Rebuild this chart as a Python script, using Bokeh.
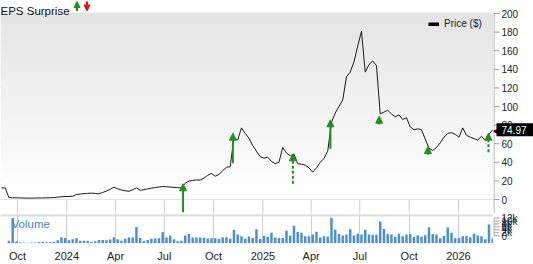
import numpy as np
import pandas as pd
from bokeh.plotting import figure
from bokeh.layouts import column, row
from bokeh.models import (Range1d, FixedTicker, Label, Legend, LegendItem,
                          ColumnDataSource, Arrow, NormalHead, Span, Grid)
from bokeh.core.properties import value
from bokeh.embed import file_html
from bokeh.resources import INLINE

# ---------------- data ----------------
week_start = "2023-09-01"

price = [12.6, 12.4, 2.0, 1.9, 1.8, 1.7, 1.6, 1.5, 1.5, 1.6,
         1.7, 1.7, 1.8, 1.9, 2.1, 2.5, 3.0, 3.2, 3.3, 3.5,
         5.4, 5.8, 6.3, 6.6, 6.9, 6.5, 6.1, 7.6, 9.0, 11.0,
         13.2, 11.5, 10.3, 9.4, 8.8, 10.5, 12.6, 9.8, 10.6, 11.4,
         12.2, 12.8, 13.4, 14.0, 13.7, 13.4, 13.0, 12.8, 12.4, 17.5,
         19.7, 20.5, 21.0, 21.0, 23.0, 26.0, 28.0, 25.0, 27.0, 31.0,
         34.7, 35.3, 66.0, 64.0, 77.0, 71.0, 66.0, 58.0, 52.0, 46.0,
         44.5, 45.5, 41.0, 38.5, 40.0, 56.0, 50.0, 47.0, 49.0, 38.5,
         38.0, 37.0, 34.0, 29.4, 34.0, 40.0, 44.0, 52.0, 83.0, 93.0,
         100.0, 107.0, 132.0, 137.0, 148.0, 165.0, 181.0, 137.0, 145.0, 149.0,
         144.0, 92.0, 94.0, 96.0, 92.0, 89.0, 91.0, 86.0, 88.0, 78.0,
         75.0, 76.0, 75.0, 65.0, 55.0, 52.7, 56.0, 61.0, 67.0, 71.0,
         72.0, 70.0, 67.0, 77.0, 69.0, 67.0, 65.6, 64.0, 68.0, 63.4,
         70.0, 74.97]

volume_k = [0.0, 0.0, 1.3, 12.8, 0.9, 0.4, 0.3, 0.3, 0.4, 0.4,
            0.5, 0.6, 0.5, 0.7, 0.8, 1.6, 3.1, 2.7, 1.6, 2.0,
            2.5, 1.3, 1.3, 1.3, 0.8, 1.1, 1.7, 1.7, 1.6, 1.9,
            3.1, 2.0, 1.3, 2.3, 2.9, 2.9, 8.3, 2.7, 1.2, 1.7,
            2.3, 2.4, 2.5, 5.6, 2.9, 3.9, 2.0, 1.1, 1.3, 4.0,
            4.7, 2.9, 2.9, 2.9, 2.8, 2.4, 2.5, 2.5, 2.3, 3.1,
            3.1, 2.3, 6.7, 4.4, 3.6, 2.3, 3.5, 2.7, 7.1, 2.3,
            3.7, 3.3, 5.3, 2.9, 2.7, 2.7, 6.3, 4.0, 8.9, 5.7,
            5.3, 3.6, 3.6, 4.4, 5.9, 2.9, 3.6, 3.5, 13.0, 6.9,
            4.7, 3.9, 4.4, 7.1, 3.9, 4.9, 4.4, 6.9, 4.4, 4.3,
            4.3, 11.1, 7.3, 4.7, 4.4, 3.3, 4.9, 3.6, 4.5, 4.7,
            3.3, 4.1, 3.3, 4.1, 8.1, 4.7, 4.5, 2.5, 3.7, 8.0,
            5.3, 2.5, 2.7, 3.6, 3.7, 3.1, 4.8, 4.0, 3.6, 2.0,
            9.5, 2.6]

eps_dates = ["2024-08-05", "2024-11-06", "2025-02-26", "2025-05-07",
             "2025-08-06", "2025-11-05", "2026-02-26"]
eps_head = [16.9, 71.3, 49.1, 85.7, 89.6, 57.0, 71.3]
eps_tail = [-13.7, 39.0, 16.9, 54.5, 80.6, 48.0, 50.9]
eps_dashed = [False, False, True, False, False, False, True]

tick_dates = ["2023-10-01", "2024-01-01", "2024-04-01", "2024-07-01", "2024-10-01",
              "2025-01-01", "2025-04-01", "2025-07-01", "2025-10-01", "2026-01-01"]
tick_labels = ["Oct", "2024", "Apr", "Jul", "Oct", "2025", "Apr", "Jul", "Oct", "2026"]
price_ticks = [0, 20, 40, 60, 80, 100, 120, 140, 160, 180, 200]
vol_ticks = [0, 2, 4, 6, 8, 10, 12]
vol_tick_labels = ["0", "2k", "4k", "6k", "8k", "10k", "12k"]
last_price_text = "74.97"

# ---------------- styling ----------------
FONT = "Liberation Sans"
GRID = "#cccccc"
AXIS = "#a0a0a0"
GREEN = "#1f8f1f"
RED = "#e3121b"
BLUE = "#4a8fd2"
TXT = "#222222"

dates = pd.date_range(week_start, periods=len(price), freq="7D")
x_start = pd.Timestamp("2023-08-30 06:00")
x_end = pd.Timestamp("2026-03-07 10:00")
x_range = Range1d(start=x_start.to_pydatetime(), end=x_end.to_pydatetime())

tick_dt = pd.to_datetime(tick_dates)
tick_ms = [int(t.value // 10**6) for t in tick_dt]
xticker = FixedTicker(ticks=tick_ms)

MAIN_W, SIDE_W = 493, 40
HEAD_H, PRICE_H, VOL_H, XAX_H = 12, 201, 51, 13
TOP_H = HEAD_H + PRICE_H
price_lo, price_hi = -15.05, 201.1
price_top = price_lo + (price_hi - price_lo) * TOP_H / PRICE_H
vol_lo, vol_hi = -0.1, 15.1


def bare(fig):
    fig.outline_line_color = None
    fig.grid.visible = False
    fig.background_fill_color = "white"
    fig.border_fill_color = "white"
    return fig


# ---------------- price panel (with the header strip above it) ----------------
p = bare(figure(width=MAIN_W, height=TOP_H, x_range=x_range, y_range=Range1d(price_lo, price_top),
                x_axis_type="datetime", x_axis_location=None, y_axis_location=None,
                output_backend="svg", toolbar_location=None, min_border=0))

# background gradient (grey at top fading to white at 0)
n = 80
frac = np.linspace(0.0, 1.0, n)
g = np.round(255 - frac * 27).astype(np.uint32)
rgba = (np.uint32(255) << 24) | (g << 16) | (g << 8) | g
img = rgba.reshape(n, 1).astype(np.uint32)
x0_ms = x_start.value / 1e6
x1_ms = x_end.value / 1e6
p.image_rgba(image=[img], x=x0_ms, y=0, dw=x1_ms - x0_ms, dh=price_hi)

# vertical grid lines only inside the price area, horizontal grid at price ticks
p.segment(x0=tick_dt, x1=tick_dt, y0=price_lo, y1=price_hi, line_color=GRID, line_width=1,
          level="underlay")
p.add_layout(Grid(dimension=1, ticker=FixedTicker(ticks=price_ticks), grid_line_color=GRID))

src = ColumnDataSource(dict(date=dates, price=price))
p.line("date", "price", source=src, line_color="#1a1a1a", line_width=1)
# thick, hidden copy of the line: only used as the legend swatch
swatch = p.line("date", "price", source=src, line_color="black", line_width=4,
                line_cap="butt", visible=False)

ed = pd.to_datetime(eps_dates)
for dashed in (False, True):
    idx = [i for i, d in enumerate(eps_dashed) if d == dashed]
    s = ColumnDataSource(dict(x=[ed[i] for i in idx], y0=[eps_tail[i] for i in idx],
                              y1=[eps_head[i] for i in idx]))
    p.add_layout(Arrow(end=NormalHead(size=7, fill_color=GREEN, line_color=GREEN, line_width=1),
                       x_start="x", y_start="y0", x_end="x", y_end="y1", source=s,
                       line_color=GREEN, line_width=2,
                       line_dash="3 2" if dashed else "solid"))

legend = Legend(items=[LegendItem(label="Price ($)", renderers=[swatch])],
                location=(428, 183.5), orientation="vertical", click_policy="none",
                glyph_width=11, glyph_height=4, label_height=12,
                label_standoff=5, padding=4, spacing=0, margin=0,
                background_fill_alpha=0, border_line_color=None,
                label_text_font=FONT, label_text_font_size="10px", label_text_color=TXT)
p.add_layout(legend)

# header: "EPS Surprise" with up / down arrows
p.add_layout(Label(x=0, y=TOP_H - 10.5, x_units="screen", y_units="screen", text="EPS Surprise",
                   text_font=FONT, text_font_size="11.5px", text_color="#111111",
                   text_baseline="alphabetic"))
p.add_layout(Arrow(end=NormalHead(size=6, fill_color=GREEN, line_color=GREEN, line_width=1),
                   x_start=76.5, y_start=TOP_H - 10.5, x_end=76.5, y_end=TOP_H - 1.0,
                   start_units="screen", end_units="screen",
                   line_color=GREEN, line_width=2))
p.add_layout(Arrow(end=NormalHead(size=6, fill_color=RED, line_color=RED, line_width=1),
                   x_start=86.5, y_start=TOP_H - 1.0, x_end=86.5, y_end=TOP_H - 10.5,
                   start_units="screen", end_units="screen",
                   line_color=RED, line_width=2))

# price scale at the right (drawn in its own strip so the price tag can overhang)
ps = bare(figure(width=SIDE_W, height=TOP_H, x_range=Range1d(0, SIDE_W),
                 y_range=Range1d(price_lo, price_top),
                 x_axis_location=None, y_axis_location=None, output_backend="svg",
                 toolbar_location=None, min_border=0))
ps.segment(x0=0.5, x1=0.5, y0=price_lo, y1=price_hi, line_color=AXIS, line_width=1)
ps.segment(x0=0, x1=6, y0=price_ticks, y1=price_ticks, line_color=AXIS, line_width=1)
ps.text(x=8, y=price_ticks, text=[str(t) for t in price_ticks], text_font=value(FONT),
        text_font_size="10px", text_color=TXT, text_baseline="middle", text_align="left")
# last price tag
ps.rect(x=21.5, y=price[-1], width=37, height=13, height_units="screen",
        fill_color="black", line_color=None)
ps.text(x=-1, y=price[-1], text=["\u25c0"], text_font=value("DejaVu Sans"),
        text_font_size="14px", text_color="black", text_baseline="middle", text_align="left")
ps.text(x=8, y=price[-1], text=[last_price_text], text_font=value(FONT),
        text_font_size="10px", text_color="white", text_baseline="middle", text_align="left")

# ---------------- volume panel ----------------
q = bare(figure(width=MAIN_W, height=VOL_H, x_range=x_range, y_range=Range1d(vol_lo, vol_hi),
                x_axis_type="datetime", y_axis_location=None,
                output_backend="svg", toolbar_location=None,
                min_border_left=0, min_border_right=0, min_border_top=0, min_border_bottom=XAX_H))
q.add_layout(Grid(dimension=0, ticker=xticker, grid_line_color=GRID))

vsrc = ColumnDataSource(dict(date=dates, vol=volume_k))
q.vbar(x="date", top="vol", source=vsrc, width=4.6 * 86400000,
       fill_color=BLUE, line_color=None)
q.add_layout(Span(location=14.1, dimension="width", line_color="#dcdcdc", line_width=2))
q.add_layout(Label(x=11, y=20, x_units="screen", y_units="screen", text="Volume",
                   text_font=FONT, text_font_size="11.5px", text_color="#3a86cc",
                   text_baseline="alphabetic"))

xa = q.xaxis[0]
xa.ticker = xticker
xa.major_label_overrides = {t: l for t, l in zip(tick_ms, tick_labels)}
xa.axis_line_color = None
xa.major_tick_line_color = None
xa.minor_tick_line_color = None
xa.major_label_standoff = 0
xa.major_label_text_font = FONT
xa.major_label_text_font_size = "11px"
xa.major_label_text_color = TXT

vol_frame_h = VOL_H - XAX_H
vs = bare(figure(width=SIDE_W, height=VOL_H, x_range=Range1d(0, SIDE_W),
                 y_range=Range1d(vol_hi - (vol_hi - vol_lo) * VOL_H / vol_frame_h, vol_hi),
                 x_axis_location=None, y_axis_location=None, output_backend="svg",
                 toolbar_location=None, min_border=0))
vs.segment(x0=0.5, x1=0.5, y0=vol_ticks[0], y1=vol_ticks[-1], line_color=AXIS, line_width=1)
vs.segment(x0=0, x1=6, y0=vol_ticks, y1=vol_ticks, line_color=AXIS, line_width=1)
vs.text(x=8, y=vol_ticks, text=vol_tick_labels, text_font=value(FONT),
        text_font_size="10px", text_color=TXT, text_baseline="middle", text_align="left")

layout = column(row(p, ps, spacing=0), row(q, vs, spacing=0), spacing=0)
open("out.html", "w").write(file_html(layout, INLINE))
